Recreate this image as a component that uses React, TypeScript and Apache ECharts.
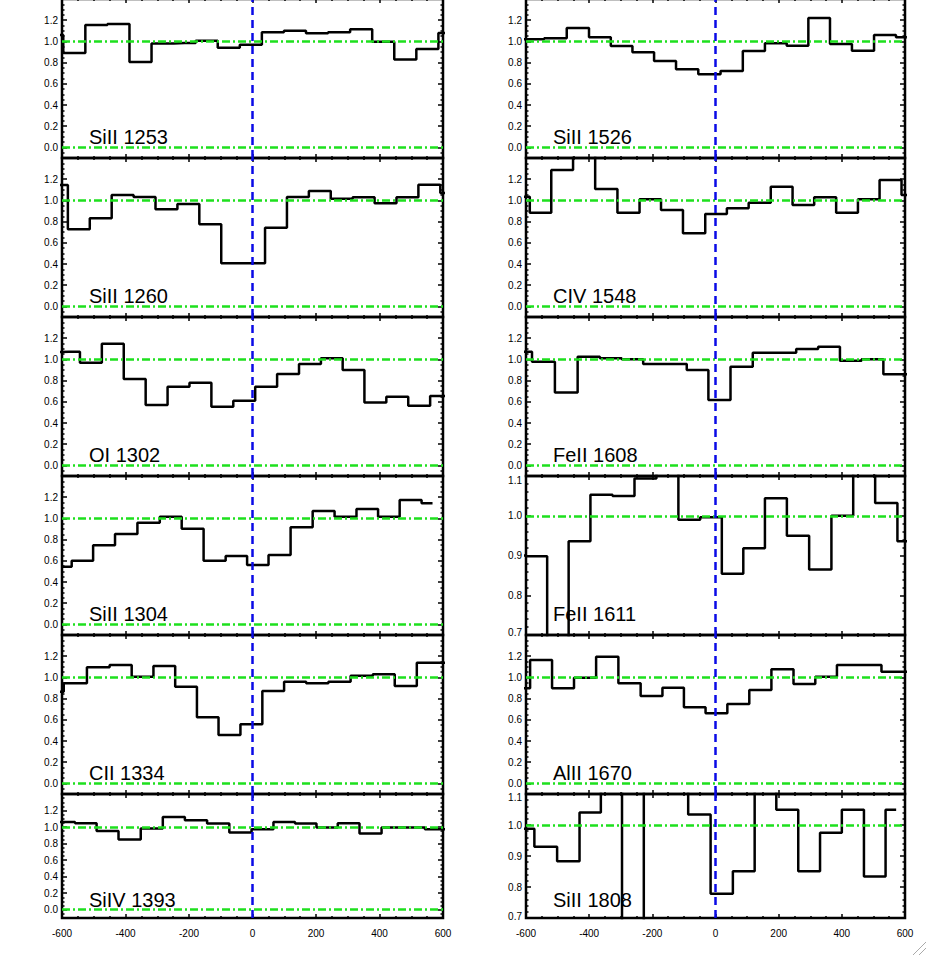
import React, { useEffect, useRef } from "react";
import * as echarts from "echarts";

// ---------------- data ----------------
const LINE_NAMES = [
  "SiII 1253", "SiII 1260", "OI 1302", "SiII 1304", "CII 1334", "SiIV 1393",
  "SiII 1526", "CIV 1548", "FeII 1608", "FeII 1611", "AlII 1670", "SiII 1808",
];

// bin centres (km/s) and normalised flux for each transition
const velSiII1253 = [-631, -561, -492, -422, -353, -283, -214, -144, -75, -5, 64, 134, 203, 273, 342, 412, 481, 551, 620];
const fluxSiII1253 = [1.06, 0.89, 1.155, 1.165, 0.806, 0.98, 0.985, 1.007, 0.94, 0.969, 1.086, 1.1, 1.076, 1.086, 1.114, 0.997, 0.83, 0.928, 1.08];

const velSiII1260 = [-616, -547, -478, -409, -340, -271, -202, -133, -64, 5, 74, 143, 212, 281, 350, 419, 488, 557, 626];
const fluxSiII1260 = [1.145, 0.727, 0.831, 1.051, 1.032, 0.916, 0.966, 0.775, 0.407, 0.407, 0.742, 1.032, 1.089, 1.016, 1.03, 0.973, 1.03, 1.148, 1.07];

const velOI1302 = [-647, -578, -509, -440, -371, -302, -233, -164, -95, -26, 43, 112, 181, 250, 318, 387, 456, 525, 594, 663];
const fluxOI1302 = [1.07, 1.073, 0.969, 1.148, 0.815, 0.57, 0.742, 0.78, 0.554, 0.61, 0.742, 0.862, 0.957, 1.01, 0.9, 0.594, 0.648, 0.563, 0.655, 0.66];

const velSiII1304 = [-603, -536, -468, -398, -327, -257, -189, -119, -50, 16, 85, 155, 224, 293, 362, 429, 498, 567];
const fluxSiII1304 = [0.544, 0.601, 0.746, 0.853, 0.959, 1.016, 0.903, 0.601, 0.645, 0.56, 0.655, 0.916, 1.07, 1.016, 1.089, 1.016, 1.174, 1.142];

const velCII1334 = [-631, -558, -485, -415, -346, -278, -209, -141, -73, -3, 65, 134, 204, 274, 344, 414, 482, 553, 622];
const fluxCII1334 = [0.865, 0.944, 1.095, 1.117, 1.007, 1.108, 0.912, 0.623, 0.457, 0.558, 0.872, 0.959, 0.944, 0.959, 1.016, 1.029, 0.919, 1.139, 1.139];

const velSiIV1393 = [-662, -593, -525, -457, -387, -317, -248, -178, -108, -38, 32, 100, 168, 235, 302, 372, 441, 509, 577, 646];
const fluxSiIV1393 = [1.06, 1.062, 1.046, 0.952, 0.851, 0.982, 1.123, 1.083, 1.042, 0.933, 0.973, 1.062, 1.042, 0.994, 1.046, 0.921, 0.994, 0.994, 0.973, 1.01];

const velSiII1526 = [-648, -578, -507, -435, -366, -297, -229, -160, -90, -19, 51, 122, 191, 260, 328, 397, 467, 537, 606];
const fluxSiII1526 = [1.01, 1.02, 1.029, 1.126, 1.039, 0.957, 0.897, 0.815, 0.737, 0.69, 0.721, 0.909, 0.982, 0.959, 1.221, 0.975, 0.912, 1.06, 1.039];

const velCIV1548 = [-622, -554, -486, -416, -346, -275, -206, -139, -67, 2, 70, 140, 210, 278, 347, 417, 485, 554, 624];
const fluxCIV1548 = [1.035, 0.884, 1.287, 1.5, 1.108, 0.884, 1.01, 0.909, 0.69, 0.872, 0.925, 0.978, 1.129, 0.957, 1.029, 0.884, 1.01, 1.192, 1.051];

const velFeII1608 = [-617, -545, -472, -401, -331, -263, -195, -125, -57, 12, 83, 153, 221, 290, 360, 428, 497, 566, 635];
const fluxFeII1608 = [1.073, 0.978, 0.687, 1.025, 1.01, 1.001, 0.957, 0.957, 0.9, 0.617, 0.931, 1.063, 1.063, 1.098, 1.12, 0.988, 1.001, 0.859, 0.86];

const velFeII1611 = [-636, -567, -499, -431, -361, -291, -222, -152, -83, -14, 54, 122, 191, 261, 332, 402, 470, 541, 611];
const fluxFeII1611 = [0.9, 0.898, 0.6, 0.936, 1.053, 1.05, 1.094, 1.15, 0.99, 0.996, 0.854, 0.918, 1.044, 0.95, 0.865, 1.0, 1.15, 1.032, 0.936];

const velAlII1670 = [-622, -552, -483, -413, -343, -272, -202, -134, -66, 3, 72, 142, 212, 282, 350, 419, 490, 561, 631];
const fluxAlII1670 = [0.897, 1.164, 0.897, 0.997, 1.195, 0.944, 0.825, 0.903, 0.718, 0.661, 0.749, 0.881, 1.076, 0.938, 1.007, 1.117, 1.117, 1.054, 1.054];

const velSiII1808 = [-609, -538, -465, -396, -330, -262, -192, -122, -51, 20, 90, 158, 227, 297, 365, 435, 505, 572];
const fluxSiII1808 = [0.988, 0.93, 0.883, 1.04, 1.15, 0.6, 1.15, 1.15, 1.034, 0.778, 0.851, 1.15, 1.049, 0.851, 0.975, 1.049, 0.834, 1.049];

const VELOCITIES = [velSiII1253, velSiII1260, velOI1302, velSiII1304, velCII1334, velSiIV1393,
  velSiII1526, velCIV1548, velFeII1608, velFeII1611, velAlII1670, velSiII1808];
const FLUXES = [fluxSiII1253, fluxSiII1260, fluxOI1302, fluxSiII1304, fluxCII1334, fluxSiIV1393,
  fluxSiII1526, fluxCIV1548, fluxFeII1608, fluxFeII1611, fluxAlII1670, fluxSiII1808];
// which panels use the narrow flux range
const NARROW = [false, false, false, false, false, false, false, false, false, true, false, true];

// axis ranges and ticks
const VEL_MIN = -600;
const VEL_MAX = 600;
const VEL_STEP = 200;
const WIDE_RANGE = [-0.1, 1.4];
const NARROW_RANGE = [0.7, 1.1];
const WIDE_MAJOR = [0, 0.2, 0.4, 0.6, 0.8, 1.0, 1.2];
const WIDE_MINOR = [-0.05, 0.05, 0.1, 0.15, 0.25, 0.3, 0.35, 0.45, 0.5, 0.55, 0.65, 0.7, 0.75, 0.85, 0.9, 0.95, 1.05, 1.1, 1.15, 1.25, 1.3, 1.35];
const NARROW_MAJOR = [0.7, 0.8, 0.9, 1.0, 1.1];
const NARROW_MINOR = [0.72, 0.74, 0.76, 0.78, 0.82, 0.84, 0.86, 0.88, 0.92, 0.94, 0.96, 0.98, 1.02, 1.04, 1.06, 1.08];
const NARROW_LABELS = [0.706, 0.8, 0.9, 1.0, 1.088];
const WIDE_LEVELS = [1.0, 0.0];
const NARROW_LEVELS = [1.0];
const LINE_CENTRE = 0;

// ---------------- layout ----------------
const COL_LEFT = [62, 526];
const COL_WIDTH = [381, 379];
const ROW_TOP = [-1, 158, 317, 476, 635, 794];
const ROW_H = [159, 159, 159, 159, 159, 124];
const FONT = "Liberation Sans";

function buildOption() {
  const grid: any[] = [];
  const xAxis: any[] = [];
  const yAxis: any[] = [];
  const series: any[] = [];
  const graphic: any[] = [];
  const tickStyle = { color: "#000", width: 1.5 };
  const green = { color: "#1ee01e", width: 2.5, type: [8, 3, 2, 3] };
  const blue = { color: "#0a0ae6", width: 2.5, type: [8, 5] };

  LINE_NAMES.forEach((name, i) => {
    const col = i < 6 ? 0 : 1;
    const row = i % 6;
    const left = COL_LEFT[col];
    const width = COL_WIDTH[col];
    const top = ROW_TOP[row];
    const height = ROW_H[row];
    const narrow = NARROW[i];
    grid.push({
      left, top, width, height, show: true, borderColor: "#000", borderWidth: 2.5,
      backgroundColor: "transparent", containLabel: false, outerBoundsMode: "none",
    });

    const xBase = {
      type: "value", gridIndex: i, min: VEL_MIN, max: VEL_MAX, interval: VEL_STEP,
      axisLine: { show: false, onZero: false }, splitLine: { show: false }, minorSplitLine: { show: false },
      axisTick: { show: true, inside: true, length: 4, lineStyle: tickStyle },
      minorTick: { show: true, splitNumber: 4, length: 2, lineStyle: tickStyle },
    };
    xAxis.push({
      ...xBase, position: "bottom",
      axisLabel: row === 5
        ? { show: true, margin: 10, fontSize: 10, fontFamily: FONT, color: "#000", formatter: (v: number) => String(v) }
        : { show: false },
    });
    xAxis.push({ ...xBase, position: "top", axisLabel: { show: false } });

    const range = narrow ? NARROW_RANGE : WIDE_RANGE;
    const major = narrow ? NARROW_MAJOR : WIDE_MAJOR;
    const minor = narrow ? NARROW_MINOR : WIDE_MINOR;
    const labels = narrow ? NARROW_LABELS : WIDE_MAJOR;
    const yBase = (pos: string, ticks: number[], len: number, labelVals: number[] | null) => ({
      type: "value", gridIndex: i, position: pos, min: range[0], max: range[1],
      axisLine: { show: false, onZero: false }, splitLine: { show: false },
      axisTick: { show: true, inside: true, length: len, customValues: ticks, lineStyle: tickStyle },
      axisLabel: labelVals
        ? { show: true, customValues: labelVals, margin: 4, fontSize: 10, fontFamily: FONT, color: "#000",
            formatter: (v: number) => v.toFixed(1) }
        : { show: false },
    });
    yAxis.push(yBase("left", major, 5, labels));
    yAxis.push(yBase("left", minor, 2.5, null));
    yAxis.push(yBase("right", major, 5, null));
    yAxis.push(yBase("right", minor, 2.5, null));

    const levels = narrow ? NARROW_LEVELS : WIDE_LEVELS;
    series.push({
      type: "line", xAxisIndex: 2 * i, yAxisIndex: 4 * i,
      data: VELOCITIES[i].map((v, k) => [v, FLUXES[i][k]]),
      step: "middle", symbol: "none", showSymbol: false, clip: true, silent: true,
      lineStyle: { color: "#000", width: 2.5 },
      markLine: {
        silent: true, symbol: ["none", "none"], label: { show: false }, animation: false,
        data: [
          ...levels.map((l) => ({ yAxis: l, lineStyle: green })),
          { xAxis: LINE_CENTRE, lineStyle: blue },
        ],
      },
    });

    graphic.push({
      type: "text", x: left + 27, y: top + height - (row === 5 ? 18 : 21), silent: true,
      style: { text: name, fontSize: 20, fontFamily: FONT, fill: "#000", verticalAlign: "middle", align: "left" },
    });
  });

  // browser resize grip in the corner
  graphic.push({ type: "line", silent: true, shape: { x1: 926, y1: 942, x2: 913, y2: 955 }, style: { stroke: "#aaa", lineWidth: 1 } });
  graphic.push({ type: "line", silent: true, shape: { x1: 926, y1: 948, x2: 919, y2: 955 }, style: { stroke: "#aaa", lineWidth: 1 } });

  return {
    animation: false,
    backgroundColor: "#fff",
    textStyle: { fontFamily: FONT },
    grid, xAxis, yAxis, series, graphic,
  };
}

export default function App() {
  const ref = useRef<HTMLDivElement>(null);
  useEffect(() => {
    if (!ref.current) return;
    const chart = echarts.init(ref.current, undefined, { renderer: "svg" });
    chart.setOption(buildOption() as any);
    return () => chart.dispose();
  }, []);
  return (
    <div
      ref={ref}
      style={{ position: "absolute", left: 0, top: 0, width: 927, height: 955, background: "#fff" }}
    />
  );
}
